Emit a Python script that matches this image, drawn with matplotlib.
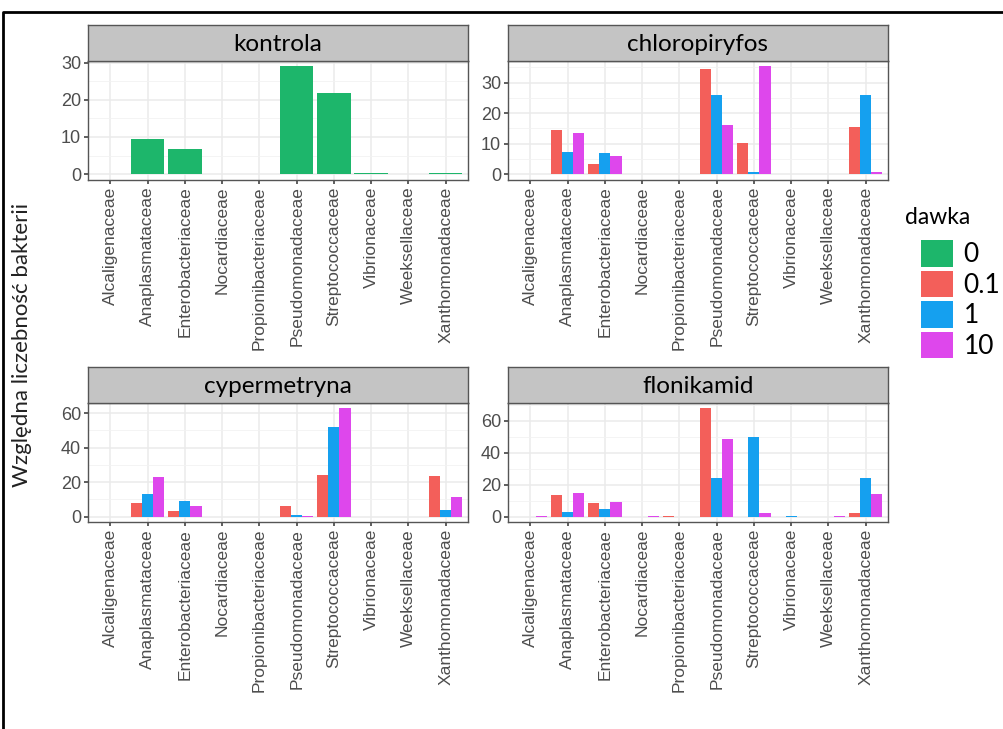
import matplotlib
matplotlib.use('Agg')
import matplotlib.pyplot as plt
import numpy as np
from matplotlib.patches import Patch
from matplotlib.lines import Line2D
from matplotlib.ticker import MultipleLocator

families = ['Alcaligenaceae', 'Anaplasmataceae', 'Enterobacteriaceae', 'Nocardiaceae',
            'Propionibacteriaceae', 'Pseudomonadaceae', 'Streptococcaceae',
            'Vibrionaceae', 'Weeksellaceae', 'Xanthomonadaceae']

doses = ['0', '0.1', '1', '10']
dose_colors = ['#1db66b', '#f35f5a', '#15a0ef', '#de47ec']

kontrola_0 = [0, 9.5, 6.7, 0, 0, 29.0, 21.8, 0.2, 0, 0.3]

chloropiryfos_01 = [0.05, 14.6, 3.3, 0, 0, 34.6, 10.1, 0, 0.2, 15.3]
chloropiryfos_1 = [0.05, 7.4, 7.0, 0, 0, 26.0, 0.8, 0, 0.2, 26.0]
chloropiryfos_10 = [0.05, 13.5, 5.8, 0, 0, 16.2, 35.3, 0, 0, 0.6]

cypermetryna_01 = [0, 7.7, 3.5, 0, 0, 6.2, 24.4, 0, 0, 23.7]
cypermetryna_1 = [0, 13.2, 9.3, 0, 0, 1.0, 51.9, 0, 0, 3.9]
cypermetryna_10 = [0, 22.7, 6.2, 0, 0, 0.3, 62.8, 0, 0, 11.4]

flonikamid_01 = [0, 13.5, 8.8, 0, 0.1, 67.7, 0, 0, 0, 2.3]
flonikamid_1 = [0, 3.1, 4.6, 0, 0, 24.4, 50.0, 0.2, 0, 24.0]
flonikamid_10 = [0.5, 14.6, 9.4, 0.3, 0, 48.6, 2.1, 0, 0.2, 14.0]

# (title, {dose: values}, major y step)
panels = [
    ('kontrola', {'0': kontrola_0}, 10),
    ('chloropiryfos', {'0.1': chloropiryfos_01, '1': chloropiryfos_1, '10': chloropiryfos_10}, 10),
    ('cypermetryna', {'0.1': cypermetryna_01, '1': cypermetryna_1, '10': cypermetryna_10}, 20),
    ('flonikamid', {'0.1': flonikamid_01, '1': flonikamid_1, '10': flonikamid_10}, 20),
]

W, H = 1004, 729
fig = plt.figure(figsize=(W / 100, H / 100), dpi=100)
fig.patch.set_facecolor('white')

tick_font = 'Liberation Sans'
text_font = ['Lato', 'DejaVu Sans']

# panel boxes in pixels: left, top, right, bottom
boxes = [(88, 61, 468, 179.5), (508, 61, 888, 179.5),
         (88, 403, 468, 522), (508, 403, 888, 522)]
strip_h = 36.5

x = np.arange(len(families))
for (title, series, step), (l, t, r, b) in zip(panels, boxes):
    ax = fig.add_axes([l / W, 1 - b / H, (r - l) / W, (b - t) / H])
    n = len(series)
    width = 0.9 / n
    ymax = 0
    for k, (dose, vals) in enumerate(series.items()):
        off = (k - (n - 1) / 2) * width
        ax.bar(x + off, vals, width=width, color=dose_colors[doses.index(dose)],
               linewidth=0, zorder=3)
        ymax = max(ymax, max(vals))
    ax.set_xlim(-0.6, len(families) - 0.4)
    ax.set_ylim(-0.05 * ymax, 1.05 * ymax)
    ax.yaxis.set_major_locator(MultipleLocator(step))
    ax.yaxis.set_minor_locator(MultipleLocator(step / 2))
    ax.set_xticks(x)
    ax.set_xticklabels(families, rotation=90, fontfamily=tick_font,
                       fontsize=12.5, color='#4d4d4d')
    for lab in ax.get_yticklabels():
        lab.set_fontfamily(tick_font)
    ax.tick_params(axis='y', labelsize=13, labelcolor='#4d4d4d')
    ax.tick_params(which='major', length=3, width=1.1, color='#333333', pad=2)
    ax.tick_params(which='minor', length=0)
    ax.grid(True, which='major', color='#ebebeb', linewidth=1.1, zorder=0)
    ax.grid(True, which='minor', axis='y', color='#f2f2f2', linewidth=0.6, zorder=0)
    ax.set_axisbelow(True)
    for sp in ax.spines.values():
        sp.set_color('#555555')
        sp.set_linewidth(1.0)

    # facet strip
    sax = fig.add_axes([l / W, 1 - t / H, (r - l) / W, strip_h / H])
    sax.set_facecolor('#c4c4c4')
    sax.set_xticks([])
    sax.set_yticks([])
    for sp in sax.spines.values():
        sp.set_color('#555555')
        sp.set_linewidth(1.0)
    sax.text(0.5, 0.45, title, ha='center', va='center', fontsize=17.5,
             family=text_font, color='black', transform=sax.transAxes)

fig.text(22 / W, 1 - 345 / H, 'Względna liczebność bakterii', rotation=90,
         ha='center', va='center', fontsize=16, family=text_font, color='#222222')

# legend: title placed by hand, keys indented under it
fig.text(905 / W, 1 - 218 / H, 'dawka', ha='left', va='center',
         fontsize=16.5, family=text_font, color='black')
handles = [Patch(facecolor=c, edgecolor='none') for c in dose_colors]
fig.legend(handles, doses, loc='upper left',
           bbox_to_anchor=(921.5 / W, 1 - 240 / H), frameon=False,
           prop={'family': text_font, 'size': 19},
           handlelength=1.2, handleheight=1.17, labelspacing=0.13,
           handletextpad=0.4, borderaxespad=0, borderpad=0)

# frame around the figure (left and top edges)
fig.add_artist(Line2D([3 / W, 3 / W, 1.0], [0.0, 1 - 12 / H, 1 - 12 / H],
                      transform=fig.transFigure, color='black', linewidth=2))

fig.savefig('out.png', dpi=100)
